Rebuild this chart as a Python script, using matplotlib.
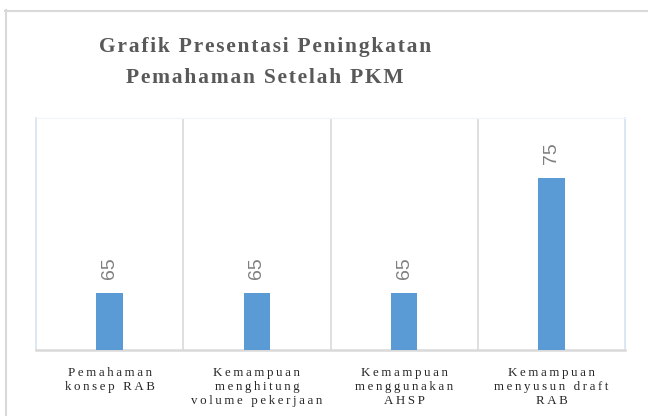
import numpy as np
import matplotlib.pyplot as plt
from matplotlib.lines import Line2D

categories = ["Pemahaman\nkonsep RAB",
              "Kemampuan\nmenghitung\nvolume pekerjaan",
              "Kemampuan\nmenggunakan\nAHSP",
              "Kemampuan\nmenyusun draft\nRAB"]
values = [65, 65, 65, 75]
title = "Grafik Presentasi Peningkatan\nPemahaman Setelah PKM"


def spaced(s, sp):
    # fake letter spacing by putting a narrow space between characters
    return "\n".join(sp.join(list(line)) for line in s.split("\n"))


serif = ["Liberation Serif", "DejaVu Serif"]

fig = plt.figure(figsize=(6.48, 4.16), dpi=100)
W, H = 648, 416

# outer chart frame
fig.add_artist(Line2D([5.5 / W, 5.5 / W], [0, 1 - 10 / H], transform=fig.transFigure,
                      color="#D9D9D9", lw=1.5))
fig.add_artist(Line2D([5 / W, 1], [1 - 10.5 / H, 1 - 10.5 / H], transform=fig.transFigure,
                      color="#D9D9D9", lw=1.5))

ax = fig.add_axes([36 / W, 1 - 350 / H, (625 - 36) / W, (350 - 118) / H])
x = np.arange(len(values))
ax.bar(x, values, width=0.18, color="#5B9BD5", zorder=3)
ax.set_xlim(-0.5, len(values) - 0.5)
ax.set_ylim(60, 80.2)

for xv in x[:-1] + 0.5:
    ax.axvline(xv, color="#D9D9D9", lw=1.2, zorder=1)

for s in ["left", "right"]:
    ax.spines[s].set_color("#D5E3F2")
    ax.spines[s].set_linewidth(1.2)
ax.spines["top"].set_color("#EFF5FB")
ax.spines["bottom"].set_color("#D9D9D9")
ax.spines["bottom"].set_linewidth(1.8)

ax.set_yticks([])
ax.set_xticks(x)
ax.set_xticklabels([spaced(c, "\u2009") for c in categories], family=serif,
                   fontsize=9.3, color="#262626", linespacing=1.25)
ax.tick_params(axis="x", length=0, pad=12)

for xi, v in zip(x, values):
    ax.annotate(str(v), (xi, v), xytext=(0, 10), textcoords="offset points",
                rotation=90, ha="center", va="bottom", fontsize=14,
                color="#808080", family="Liberation Sans")

fig.text(265 / W, 1 - 37 / H, spaced(title, "\u200a"), ha="center", va="top",
         family=serif, fontsize=15.5, fontweight="bold", color="#595959",
         linespacing=1.75)

plt.savefig("out.png", dpi=100)
